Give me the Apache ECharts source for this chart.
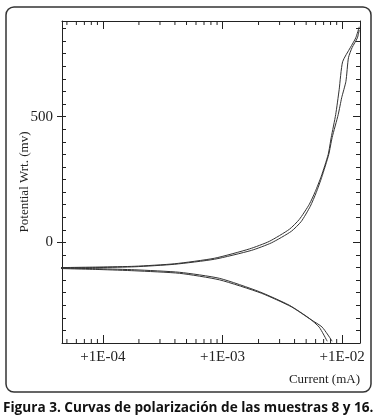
<!DOCTYPE html>
<html>
<head>
<meta charset="utf-8">
<script src="https://cdn.jsdelivr.net/npm/echarts@6/dist/echarts.min.js"></script>
<style>
  html, body { margin: 0; padding: 0; background: #fff; }
  #main { width: 380px; height: 420px; }
</style>
</head>
<body>
<div id="main"></div>
<script>
// sample 8: cathodic branch (bottom) -> Ecorr -> anodic branch (top)
var current8 = [7.50e-3, 6.43e-3, 5.31e-3, 3.62e-3, 2.03e-3, 9.44e-4, 4.38e-4, 1.85e-4, 9.44e-5, 4.0e-5,
  9.44e-5, 1.85e-4, 3.98e-4, 8.58e-4, 1.68e-3, 2.46e-3, 3.62e-3, 4.38e-3, 5.31e-3, 5.96e-3,
  6.68e-3, 7.64e-3, 8.10e-3, 8.83e-3, 9.44e-3, 1.009e-2, 1.17e-2, 1.30e-2, 1.39e-2];
var potential8 = [-393, -337, -302, -250, -196, -143, -119, -109, -105, -101,
  -98, -95, -85, -63, -26, 4, 52, 91, 151, 202,
  262, 349, 417, 508, 607, 718, 774, 813, 857];

// sample 16
var current16 = [8.25e-3, 6.81e-3, 5.52e-3, 3.76e-3, 2.11e-3, 9.44e-4, 4.38e-4, 1.85e-4, 9.44e-5, 4.0e-5,
  9.44e-5, 1.85e-4, 3.98e-4, 8.58e-4, 1.74e-3, 2.56e-3, 3.76e-3, 4.55e-3, 5.41e-3, 6.07e-3,
  6.74e-3, 7.72e-3, 8.25e-3, 9.27e-3, 9.91e-3, 1.075e-2, 1.129e-2, 1.21e-2, 1.341e-2, 1.39e-2];
var potential16 = [-393, -337, -308, -256, -202, -149, -123, -113, -108, -103,
  -100, -97, -87, -67, -32, -2, 44, 83, 143, 198,
  258, 349, 417, 508, 575, 640, 734, 774, 813, 845];

var potentialLabels = [0, 500];
var minorCurrentTicks = [5e-5, 6e-5, 7e-5, 8e-5, 9e-5,
  2e-4, 3e-4, 4e-4, 5e-4, 6e-4, 7e-4, 8e-4, 9e-4,
  2e-3, 3e-3, 4e-3, 5e-3, 6e-3, 7e-3, 8e-3, 9e-3];

var xMin = 4.55e-5, xMax = 1.41e-2;
var yMin = -400, yMax = 880;

function pairs(xs, ys) {
  return xs.map(function (x, i) { return [x, ys[i]]; });
}

function sciLabel(v) {
  var p = Math.round(Math.log10(v));
  var s = ('0' + Math.abs(p)).slice(-2);
  return '+1E' + (p < 0 ? '-' : '+') + s;
}

var serif = '"Liberation Serif", "DejaVu Serif", serif';
var ink = '#222';

var chart = echarts.init(document.getElementById('main'));

var logAxis = {
  type: 'log',
  logBase: 10,
  min: xMin,
  max: xMax,
  axisLine: { onZero: false, lineStyle: { color: ink, width: 1 } },
  axisTick: { inside: true, length: 8, lineStyle: { color: ink } },
  splitLine: { show: false }
};

var valAxis = {
  type: 'value',
  min: yMin,
  max: yMax,
  interval: 50,
  axisLine: { show: true, onZero: false, lineStyle: { color: ink, width: 1 } },
  splitLine: { show: false }
};

var option = {
  animation: false,
  backgroundColor: '#fff',
  title: {
    text: 'Figura 3. Curvas de polarización de las muestras 8 y 16.',
    left: 3,
    top: 401,
    padding: 0,
    textStyle: { fontFamily: '"Open Sans", sans-serif', fontWeight: 'bold', fontSize: 13.6, color: '#111' }
  },
  grid: { left: 62, right: 20, top: 21, bottom: 77 },
  xAxis: [
    Object.assign({}, logAxis, {
      position: 'bottom',
      axisLabel: {
        formatter: sciLabel, showMinLabel: false, showMaxLabel: false,
        margin: 7, fontFamily: serif, fontSize: 15, color: ink
      }
    }),
    Object.assign({}, logAxis, { position: 'top', axisLabel: { show: false } })
  ],
  yAxis: [
    Object.assign({}, valAxis, {
      position: 'left',
      name: 'Potential Wrt. (mv)',
      nameLocation: 'middle',
      nameGap: 31,
      nameMoveOverlap: false,
      nameTextStyle: { fontFamily: serif, fontSize: 13, color: ink },
      axisTick: { inside: true, length: 4, lineStyle: { color: ink } },
      axisLabel: {
        formatter: function (v) { return potentialLabels.indexOf(v) >= 0 ? String(v) : ''; },
        margin: 9, fontFamily: serif, fontSize: 15, color: ink
      }
    }),
    Object.assign({}, valAxis, {
      position: 'right',
      axisTick: { inside: true, length: 4, lineStyle: { color: ink } },
      axisLabel: { show: false }
    }),
    Object.assign({}, valAxis, {
      position: 'left',
      axisLine: { show: false, onZero: false },
      axisTick: { inside: false, length: 5, customValues: potentialLabels, lineStyle: { color: ink } },
      axisLabel: { show: false }
    }),
    Object.assign({}, valAxis, {
      position: 'right',
      axisLine: { show: false, onZero: false },
      axisTick: { inside: true, length: 7, customValues: potentialLabels, lineStyle: { color: ink } },
      axisLabel: { show: false }
    })
  ],
  graphic: [
    {
      type: 'rect',
      shape: { x: 6, y: 7, width: 365, height: 385, r: 8 },
      style: { fill: 'none', stroke: '#333', lineWidth: 1.5 },
      silent: true
    },
    {
      type: 'text',
      right: 20,
      top: 373,
      style: { text: 'Current (mA)', font: '13px ' + serif, fill: ink }
    }
  ],
  series: [
    {
      name: 'Muestra 8',
      type: 'line',
      data: pairs(current8, potential8),
      showSymbol: false,
      smooth: 0.2,
      clip: true,
      lineStyle: { color: '#333', width: 1 }
    },
    {
      name: 'Muestra 16',
      type: 'line',
      data: pairs(current16, potential16),
      showSymbol: false,
      smooth: 0.2,
      clip: true,
      lineStyle: { color: '#333', width: 1 }
    },
    {
      // minor log ticks on the top and bottom frame
      type: 'custom',
      silent: true,
      clip: false,
      data: minorCurrentTicks.map(function (v) { return [v, yMin]; }),
      renderItem: function (params, api) {
        var v = api.value(0);
        var b = api.coord([v, yMin]);
        var t = api.coord([v, yMax]);
        var st = { stroke: ink, lineWidth: 1 };
        return {
          type: 'group',
          children: [
            { type: 'line', shape: { x1: b[0], y1: b[1], x2: b[0], y2: b[1] - 4 }, style: st },
            { type: 'line', shape: { x1: t[0], y1: t[1], x2: t[0], y2: t[1] + 4 }, style: st }
          ]
        };
      }
    }
  ]
};

chart.setOption(option);
</script>
</body>
</html>
